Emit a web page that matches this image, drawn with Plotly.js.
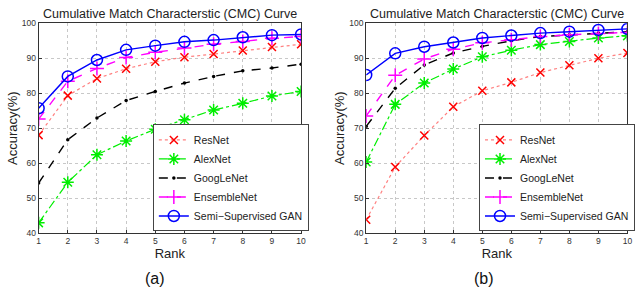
<!DOCTYPE html>
<html><head><meta charset="utf-8">
<script src="https://cdn.plot.ly/plotly-3.0.1.min.js"></script>
<style>html,body{margin:0;padding:0;background:#fff}#chart{width:635px;height:293px}</style>
</head><body><div id="chart"></div>
<script>
const ranks = [1,2,3,4,5,6,7,8,9,10];
const seriesNames = ['ResNet','AlexNet','GoogLeNet','EnsembleNet','Semi\u2212Supervised GAN'];
// (a)
const resnetA   = [68.0,79.3,84.2,87.0,89.0,90.3,91.2,92.2,93.2,94.0];
const alexnetA  = [42.9,54.5,62.4,66.3,69.7,72.4,75.2,77.1,79.2,80.5];
const googlenetA= [54.3,66.7,72.9,77.9,80.5,82.9,84.8,86.4,87.2,88.3];
const ensembleA = [72.6,83.4,87.1,90.2,91.7,92.9,94.0,94.8,95.7,96.2];
const ganA      = [75.7,84.8,89.5,92.4,93.6,94.7,95.2,96.0,96.6,96.8];
// (b)
const resnetB   = [43.8,58.9,67.9,76.1,80.7,83.1,85.9,88.0,90.0,91.5];
const alexnetB  = [60.3,76.8,82.9,86.9,90.4,92.3,93.9,94.8,95.8,96.4];
const googlenetB= [70.5,81.4,88.1,91.5,93.4,95.0,96.2,96.7,97.2,97.6];
const ensembleB = [73.5,85.1,89.8,92.6,94.4,95.3,96.2,96.7,97.1,97.4];
const ganB      = [85.2,91.4,93.3,94.5,95.8,96.5,97.2,97.6,98.1,98.4];
const yTicks = [40,50,60,70,80,90,100];

const styles = [
  {line:{color:'rgba(255,60,60,0.65)',dash:'dot',width:1.2}, marker:{symbol:'x-thin-open',size:8,color:'#ff0000',line:{width:1.5,color:'#ff0000'}}},
  {line:{color:'#00ee00',dash:'dashdot',width:1.2}, marker:{symbol:'asterisk-open',size:10,color:'#00ee00',line:{width:1.5,color:'#00ee00'}}},
  {line:{color:'#000000',dash:'dash',width:1.4}, marker:{symbol:'circle',size:3.5,color:'#000000'}},
  {line:{color:'#ff00ff',dash:'dash',width:1.4}, marker:{symbol:'cross-thin-open',size:10,color:'#ff00ff',line:{width:1.5,color:'#ff00ff'}}},
  {line:{color:'#0000ff',width:1.4}, marker:{symbol:'circle-open',size:11,color:'#0000ff',line:{width:1.5,color:'#0000ff'}}}
];
const dataA = [resnetA,alexnetA,googlenetA,ensembleA,ganA];
const dataB = [resnetB,alexnetB,googlenetB,ensembleB,ganB];
const traces = [];
dataA.forEach((ys,i)=>traces.push(Object.assign({type:'scatter',mode:'lines+markers',x:ranks,y:ys,name:seriesNames[i],xaxis:'x',yaxis:'y',legend:'legend'},styles[i])));
dataB.forEach((ys,i)=>traces.push(Object.assign({type:'scatter',mode:'lines+markers',x:ranks,y:ys,name:seriesNames[i],xaxis:'x2',yaxis:'y2',legend:'legend2'},styles[i])));

const F = 'Liberation Sans, Arial, sans-serif';
function xax(dom, anchor){return {domain:dom,anchor:anchor,range:[1,10],tickvals:ranks,showline:true,mirror:true,linecolor:'#333',linewidth:1,
  ticks:'inside',ticklen:3,tickcolor:'#333',showgrid:true,gridcolor:'#c8c8c8',griddash:'dot',zeroline:false,
  tickfont:{family:F,size:8.5,color:'#333'},title:{text:'Rank',font:{family:F,size:13,color:'#222'},standoff:2}};}
function yax(dom, anchor){return {domain:dom,anchor:anchor,range:[40,100],tickvals:yTicks,showline:true,mirror:true,linecolor:'#333',linewidth:1,
  ticks:'inside',ticklen:3,tickcolor:'#333',showgrid:true,gridcolor:'#c8c8c8',griddash:'dot',zeroline:false,
  tickfont:{family:F,size:8.5,color:'#333'},title:{text:'Accuracy(%)',font:{family:F,size:13,color:'#222'},standoff:1}};}
const yd=[0.2048,0.9205];
const legendBase = {bgcolor:'#fff',bordercolor:'#444',borderwidth:1,font:{family:F,size:10.5,color:'#222'},xanchor:'left',yanchor:'bottom',itemwidth:30,tracegroupgap:0};
const layout = {
  width:635,height:293,margin:{l:0,r:0,t:0,b:0},paper_bgcolor:'#fff',plot_bgcolor:'#fff',
  xaxis:xax([0.0614,0.4787],'y'), yaxis:yax(yd,'x'),
  xaxis2:xax([0.5822,0.9975],'y2'), yaxis2:yax(yd,'x2'),
  legend:Object.assign({x:0.243,y:0.21},legendBase),
  legend2:Object.assign({x:0.762,y:0.21},legendBase),
  annotations:[
    {text:'Cumulative Match Characterstic (CMC) Curve',xref:'paper',yref:'paper',x:0.27,y:0.952,xanchor:'center',yanchor:'middle',showarrow:false,font:{family:F,size:12.5,color:'#222'}},
    {text:'Cumulative Match Characterstic (CMC) Curve',xref:'paper',yref:'paper',x:0.79,y:0.952,xanchor:'center',yanchor:'middle',showarrow:false,font:{family:F,size:12.5,color:'#222'}},
    {text:'(a)',xref:'paper',yref:'paper',x:0.247,y:0.051,xanchor:'center',yanchor:'middle',showarrow:false,font:{family:F,size:16,color:'#111'}},
    {text:'(b)',xref:'paper',yref:'paper',x:0.769,y:0.051,xanchor:'center',yanchor:'middle',showarrow:false,font:{family:F,size:16,color:'#111'}}
  ]
};
Plotly.newPlot('chart',traces,layout,{displayModeBar:false,staticPlot:true});
</script></body></html>
